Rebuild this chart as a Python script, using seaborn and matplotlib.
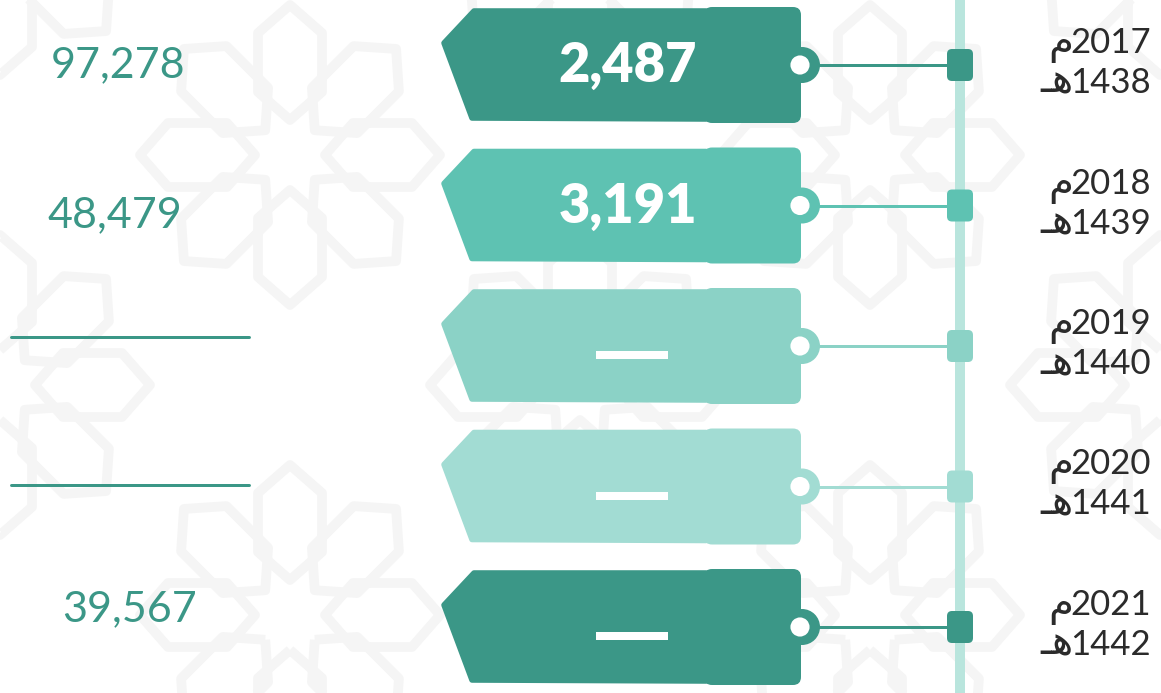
import numpy as np
import pandas as pd
import seaborn as sns
import matplotlib.pyplot as plt
from matplotlib.patches import Polygon, FancyBboxPatch, Circle

years_g = ['2017', '2018', '2019', '2020', '2021']
years_h = ['1438', '1439', '1440', '1441', '1442']
tag_values = ['2,487', '3,191', None, None, None]
left_values = ['97,278', '48,479', None, None, '39,567']
row_colors = ['#3b9787', '#5ec2b2', '#8bd2c6', '#a2dcd3', '#3b9787']

TEXT_DARK = '#2b2b2b'
LINE_LIGHT = '#b9e5dd'
BG_LINE = '#f5f5f5'

sns.set_theme(style='white')
plt.rcParams['font.family'] = ['Lato', 'DejaVu Sans']

fig = plt.figure(figsize=(11.61, 6.93), dpi=100)
ax = fig.add_axes([0, 0, 1, 1])
ax.set_xlim(0, 1161)
ax.set_ylim(693, 0)

# faint geometric background (rosettes of petals)
def petal(cx, cy, ang, r0=35, r1=150, w=32):
    pts = np.array([[r0, 0], [r0 + 28, w], [r1 - 28, w], [r1, 0], [r1 - 28, -w], [r0 + 28, -w]])
    c, s = np.cos(ang), np.sin(ang)
    rot = pts @ np.array([[c, s], [-s, c]])
    return rot + [cx, cy]

for gx in range(-1, 4):
    for gy in range(-1, 3):
        for ox, oy in [(0, 0), (290, 230)]:
            cx = 580 * gx + 290 + ox
            cy = 460 * gy + 155 + oy
            for k in range(8):
                ax.add_patch(Polygon(petal(cx, cy, k * np.pi / 4), closed=True, fill=False,
                                     ec=BG_LINE, lw=7, joinstyle='round', zorder=0))

# timeline
ax.plot([960, 960], [0, 693], color=LINE_LIGHT, lw=10 * 0.72, zorder=1, solid_capstyle='butt')

y0, step = 65, 140.5
rows_y = [y0 + step * i for i in range(len(years_g))]

df = pd.DataFrame({'year': years_g, 'y': rows_y, 'hole_x': 800})

renderer = fig.canvas.get_renderer()
inv = ax.transData.inverted()

def year_label(x, y, digits, suffix):
    t = ax.text(x, y, digits, ha='right', va='baseline', color=TEXT_DARK, fontsize=25)
    bb = t.get_window_extent(renderer)
    x0 = inv.transform((bb.x0, bb.y0))[0]
    ax.text(x0 + 3, y, suffix, ha='right', va='baseline', color=TEXT_DARK,
            fontsize=29, family='DejaVu Sans')

for i, cy in enumerate(rows_y):
    c = row_colors[i]
    # tag body
    body = [(474, cy - 54), (706, cy - 54), (706, cy + 54), (472, cy + 53), (444, cy - 22)]
    ax.add_patch(Polygon(body, closed=True, fc=c, ec=c, lw=4, joinstyle='round', zorder=2))
    ax.add_patch(FancyBboxPatch((704, cy - 58), 97, 116,
                                boxstyle='round,pad=0,rounding_size=8', fc=c, ec='none', zorder=2))
    ax.add_patch(Circle((802, cy), 18, fc=c, ec='none', zorder=2))
    # string to the timeline
    ax.plot([815, 950], [cy, cy], color=c, lw=3 * 0.72, zorder=2)
    ax.add_patch(FancyBboxPatch((947, cy - 16), 26, 32,
                                boxstyle='round,pad=0,rounding_size=5', fc=c, ec='none', zorder=3))

    if tag_values[i]:
        ax.text(628, cy + 1, tag_values[i], ha='center', va='center', color='white',
                fontsize=39, fontweight='heavy', zorder=4)
    else:
        ax.plot([596, 668], [cy + 9, cy + 9], color='white', lw=8 * 0.72, zorder=4,
                solid_capstyle='butt')

    # gregorian / hijri year labels
    year_label(1151, cy - 12, years_g[i], '\u0645')
    year_label(1151, cy + 28, years_h[i], '\u0640\ufeeb')

# hole in each tag
sns.scatterplot(data=df, x='hole_x', y='y', s=190, color='white', edgecolor='none',
                ax=ax, zorder=5, legend=False)

# left column values
left_x = [118, 115, 130, 130, 130]
left_dy = [0, 10, -9, -2, -18]
for i, cy in enumerate(rows_y):
    if left_values[i]:
        ax.text(left_x[i], cy + left_dy[i], left_values[i], ha='center', va='center',
                color=row_colors[0], fontsize=31)
    else:
        ax.plot([11, 249], [cy + left_dy[i], cy + left_dy[i]], color=row_colors[0],
                lw=3 * 0.72, zorder=3)

ax.set_xlim(0, 1161)
ax.set_ylim(693, 0)
ax.axis('off')

fig.savefig('out.png', dpi=100)
